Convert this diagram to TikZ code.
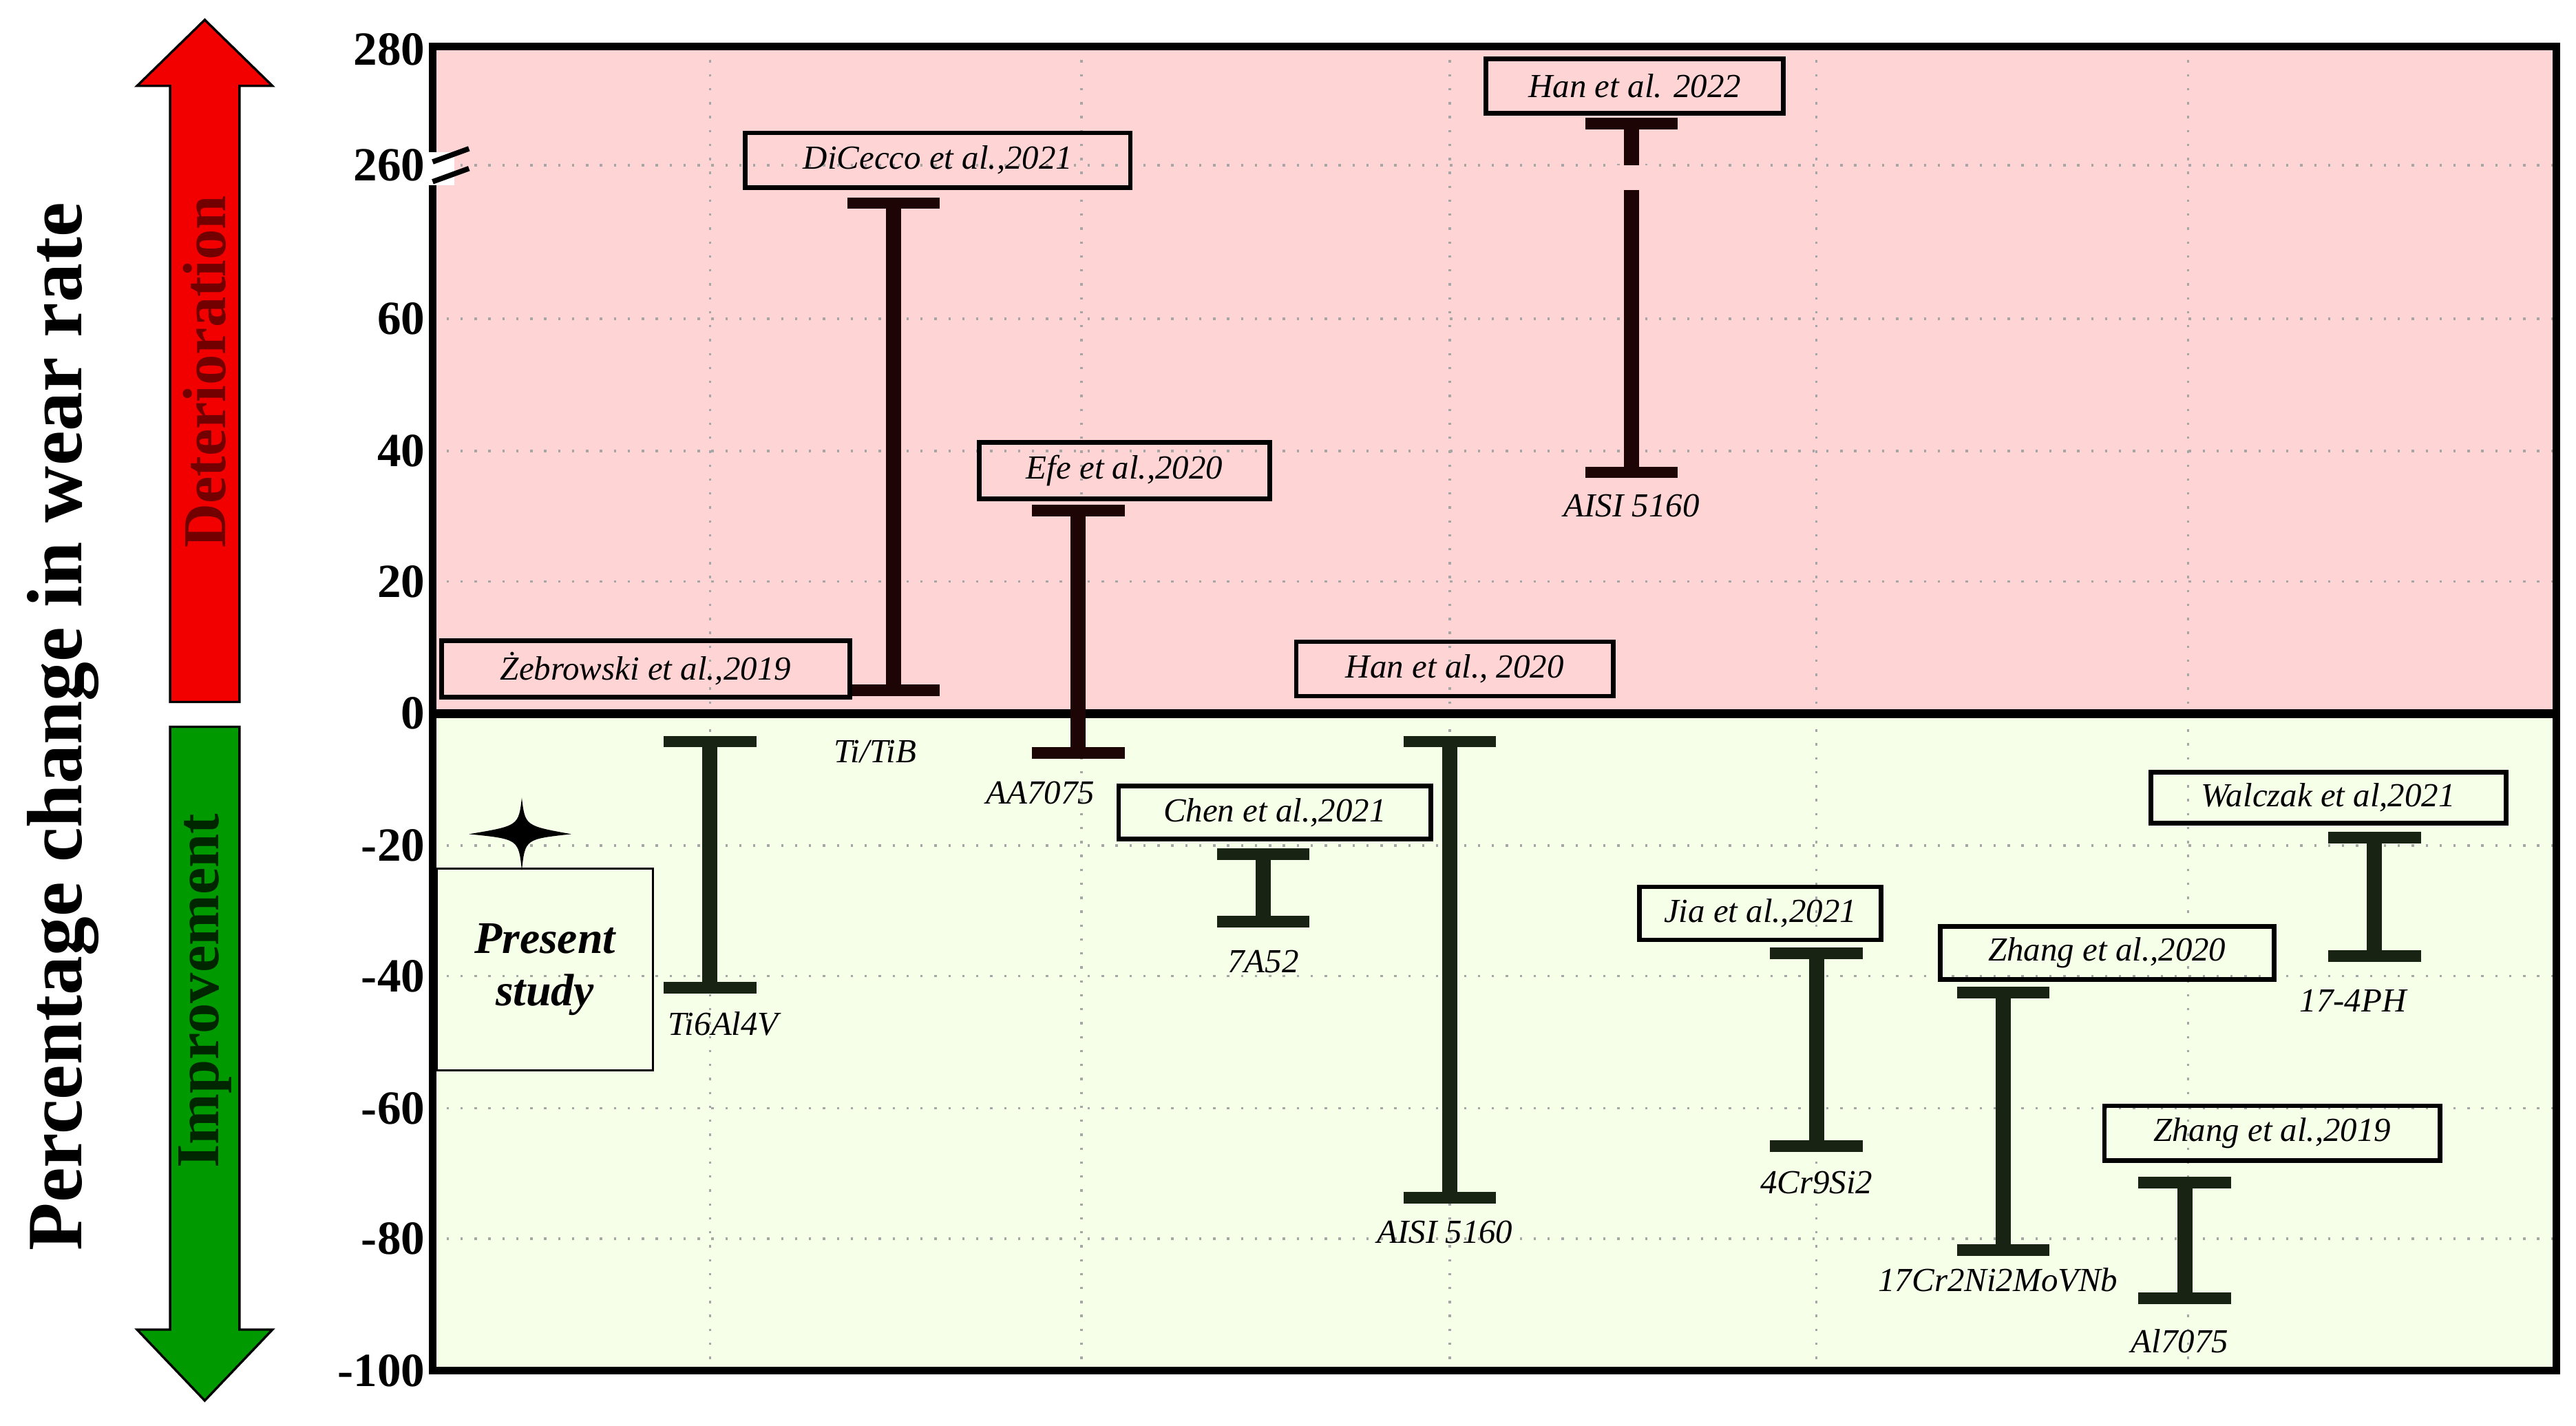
\documentclass[tikz,border=0pt]{standalone}
\usepackage{fontspec}
\setmainfont{Liberation Serif}
\definecolor{barg}{RGB}{25,35,20}
\definecolor{barr}{RGB}{30,5,5}
\begin{document}
\begin{tikzpicture}[x=0.01cm,y=-0.01cm,
  lab/.style={font=\fontsize{5.8}{6}\selectfont\itshape,inner sep=0pt},
  ref/.style={draw,thick,font=\fontsize{5.8}{6}\selectfont\itshape,inner sep=0pt,anchor=center},
  tick/.style={font=\fontsize{8.2}{9}\selectfont\bfseries,anchor=east,inner sep=0pt},
  barR/.style={line width=2.6pt,color=barr},
  barG/.style={line width=2.6pt,color=barg},
  grid/.style={gray!70,dotted,thin}]
\useasboundingbox (0,0) rectangle (1560,863);
\fill[red!17] (262,28) rectangle (1548,432);
\fill[green!40!yellow!9] (262,432) rectangle (1548,830);
\foreach \y in {100,193,273,352,512,591,671,750} \draw[grid] (262,\y)--(1548,\y);
\foreach \x in {430,655,878,1100,1325} \draw[grid] (\x,28)--(\x,830);
\draw[line width=1.3pt] (262,28) rectangle (1548,830);
\draw[line width=1.6pt] (262,432)--(1548,432);
% break
\fill[white] (258,92) rectangle (275,112);
\draw[line width=0.9pt] (262,98)--(284,90) (262,110)--(284,102);
% ticks
\foreach \v/\y in {280/30,260/100,60/193,40/273,20/352,0/432,-20/512,-40/591,-60/671,-80/750,-100/830}
  \node[tick] at (258,\y) {\v};
% arrows
\fill[red!95!black] (103,425)--(103,52)--(83,52)--(124,12)--(165,52)--(145,52)--(145,425)--cycle;
\draw[thin] (103,425)--(103,52)--(83,52)--(124,12)--(165,52)--(145,52)--(145,425)--cycle;
\fill[green!60!black] (103,440)--(103,805)--(83,805)--(124,848)--(165,805)--(145,805)--(145,440)--cycle;
\draw[thin] (103,440)--(103,805)--(83,805)--(124,848)--(165,805)--(145,805)--(145,440)--cycle;
\node[rotate=90,font=\fontsize{10.5}{11}\selectfont\bfseries,text=red!45!black] (det) at (124,225) {Deterioration};
\node[rotate=90,font=\fontsize{10.5}{11}\selectfont\bfseries,text=black!85!green] (imp) at (124,600) {Improvement};
\node[rotate=90,font=\fontsize{13.5}{14}\selectfont\bfseries] (yl) at (38,440) {Percentage change in wear rate};
% error bars
\foreach \x/\a/\b/\s in {541/123/418/barR,653/309/456/barR,988/75/286/barR,
  430/449/598/barG,765/517/558/barG,878/449/725/barG,1100/577/694/barG,1213/601/757/barG,1323/716/786/barG,1438/507/579/barG}
  {\draw[\s] (\x,\a)--(\x,\b); \draw[\s,line width=2pt] (\x-28,\a)--(\x+28,\a) (\x-28,\b)--(\x+28,\b);}
\fill[red!17] (978,100) rectangle (998,115);
\node[lab] at (438,620) {Ti6Al4V};
\node[lab] at (530,455) {Ti/TiB};
\node[lab] at (630,480) {AA7075};
\node[lab] at (765,582) {7A52};
\node[lab] at (875,746) {AISI 5160};
\node[lab] at (988,306) {AISI 5160};
\node[lab] at (1100,716) {4Cr9Si2};
\node[lab] at (1210,775) {17Cr2Ni2MoVNb};
\node[lab] at (1320,812) {Al7075};
\node[lab] at (1425,606) {17-4PH};
% references
\node[ref,minimum width=2.47cm,minimum height=0.34cm] at (391,405) {Żebrowski et al.,2019};
\node[ref,minimum width=2.33cm,minimum height=0.33cm] at (568,97) {DiCecco et al.,2021};
\node[ref,minimum width=1.76cm,minimum height=0.34cm] at (681,285) {Efe et al.,2020};
\node[ref,minimum width=1.92cm,minimum height=0.33cm] at (881,405) {Han et al., 2020};
\node[ref,minimum width=1.80cm,minimum height=0.33cm] at (990,52) {Han et al. 2022};
\node[ref,minimum width=1.89cm,minimum height=0.32cm] at (772,492) {Chen et al.,2021};
\node[ref,minimum width=1.46cm,minimum height=0.32cm] at (1066,553) {Jia et al.,2021};
\node[ref,minimum width=2.02cm,minimum height=0.32cm] at (1276,577) {Zhang et al.,2020};
\node[ref,minimum width=2.15cm,minimum height=0.31cm] at (1410,483) {Walczak et al,2021};
\node[ref,minimum width=2.03cm,minimum height=0.33cm] at (1376,686) {Zhang et al.,2019};
\node[draw,thin,minimum width=1.31cm,minimum height=1.22cm,align=center,
  font=\fontsize{7.8}{9}\selectfont\bfseries\itshape] (ps) at (330,587) {Present\\study};
\fill (316,483) .. controls (318,500) .. (346,505) .. controls (318,508) .. (316,527)
  .. controls (314,508) .. (284,505) .. controls (314,500) .. cycle;
\end{tikzpicture}
\end{document}
